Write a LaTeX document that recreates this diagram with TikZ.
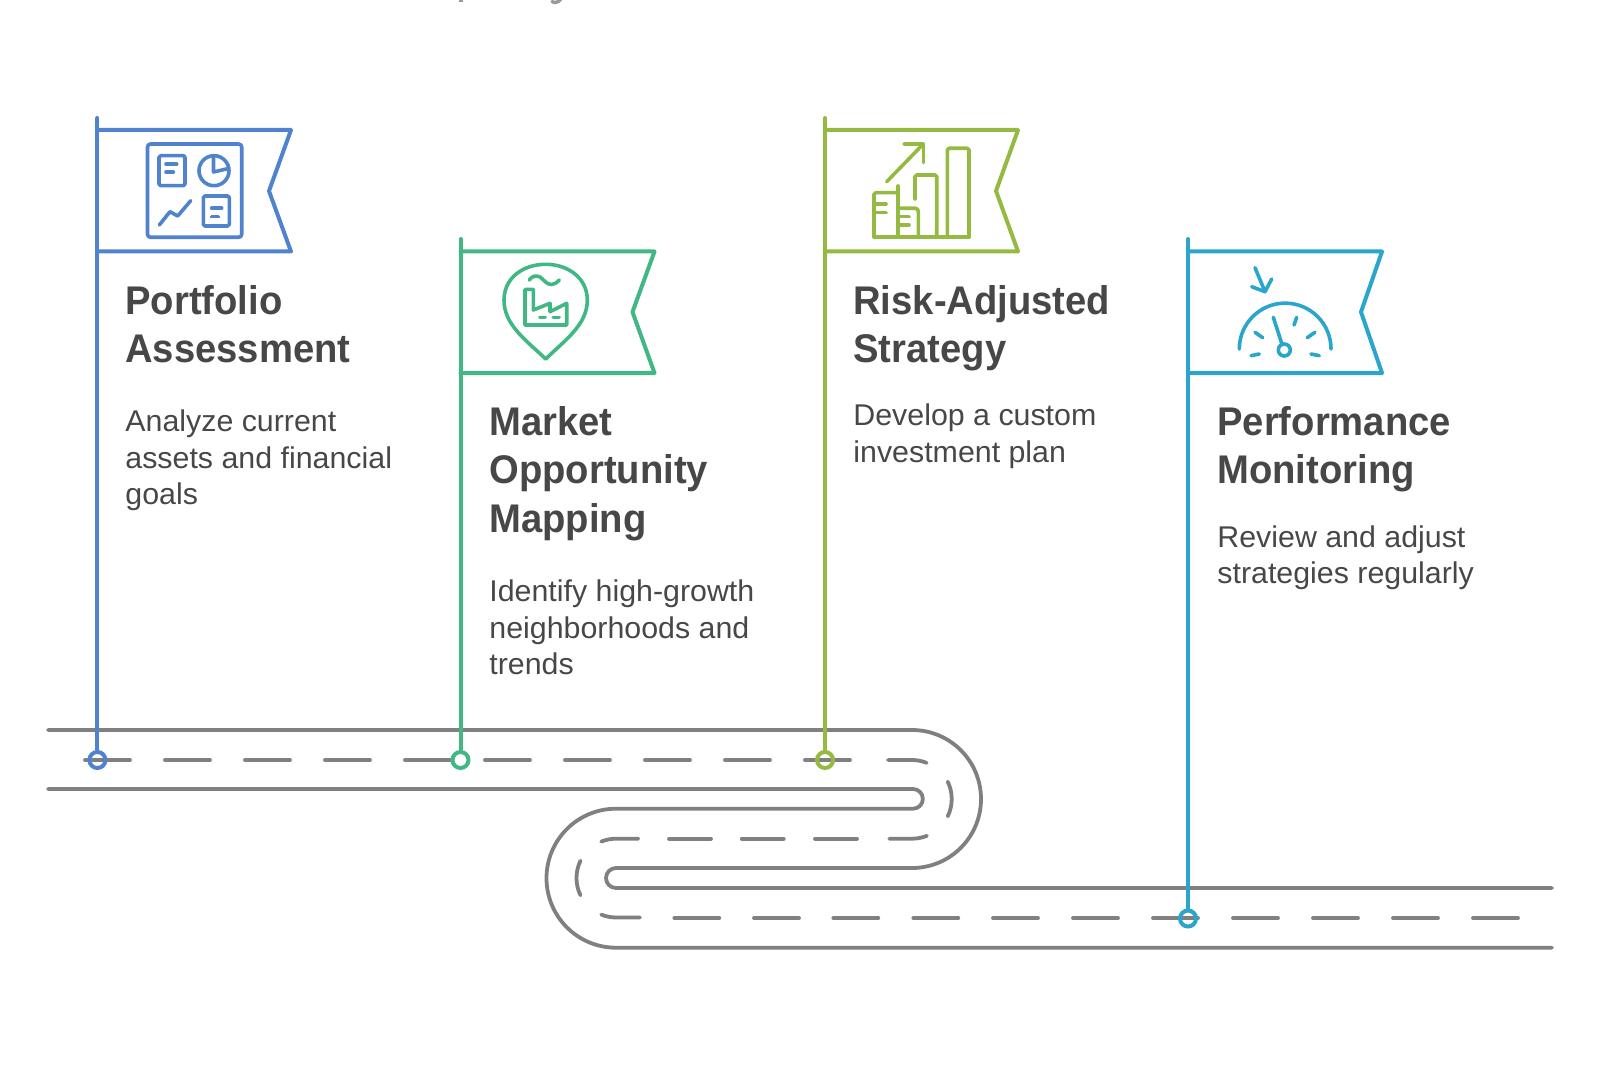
\documentclass[tikz,border=0pt]{standalone}
\usepackage{fontspec}
\setmainfont[FakeStretch=1.012,BoldFeatures={FakeStretch=0.955}]{Liberation Sans}
\definecolor{roadgray}{HTML}{808080}
\definecolor{txt}{HTML}{474747}
\definecolor{cblue}{HTML}{5082CE}
\definecolor{cgreen}{HTML}{41B883}
\definecolor{colive}{HTML}{94BA42}
\definecolor{ccyan}{HTML}{2AA5CC}
\newcommand{\ts}{\rule{0pt}{16pt}}
\newcommand{\bs}{\rule{0pt}{12pt}}
\tikzset{
  road/.style={draw=roadgray,line width=1.9pt,line cap=round,line join=round},
  flagline/.style={line width=2pt,line join=round,line cap=round},
  icon/.style={line width=1.8pt,line join=round,line cap=round},
  marker/.style={circle,draw,line width=2pt,minimum size=8pt,inner sep=0pt},
  ttl/.style={anchor=north west,inner sep=0pt,align=left,text=txt,font=\fontsize{20pt}{24.25pt}\selectfont\bfseries},
  body/.style={anchor=north west,inner sep=0pt,align=left,text=txt,font=\fontsize{15pt}{18.1pt}\selectfont},
}
\begin{document}
\begin{tikzpicture}[x=0.5pt,y=-0.5pt]
\useasboundingbox (0,0) rectangle (1600,1075);
% cropped marks at the top edge
\draw[draw=gray!80,line width=1.7pt] (461,-2) -- (461,2.5);
\draw[draw=gray!80,line width=1.7pt,line cap=round] (552,1.5) .. controls (554,3) and (558,3) .. (561,-1);
% road outlines
\draw[road] (48,730) -- (912,730) arc (-90:90:69) -- (616,868) arc (270:90:10) -- (1552,888);
\draw[road] (48,789) -- (913,789) arc (-90:90:9.85) -- (616,808.7) arc (270:90:69.5) -- (1552,947.7);
% road centre dashes
\foreach \a in {85,165,245,325,405,485,565,645,725,805}
  \draw[road] (\a,760) -- ++(45,0);
\draw[road] (888,760) -- (912,760) arc (-90:-68:39);
\draw[road] (947.7,781.6) arc (-26:26:39.7);
\draw[road] (926.9,835.8) arc (68:90:39.7) -- (889.3,838.7);
\foreach \a in {815,741.7,669}
  \draw[road] (\a,838.7) -- ++(42,0);
\draw[road] (638.3,838.7) -- (616,838.7) arc (270:248:39.5);
\draw[road] (580.5,860.7) arc (206:154:39.5);
\draw[road] (601.2,914.6) arc (112:90:39.5) -- (640,917.5);
\foreach \a in {674.3,754,833.3,913.3,993,1073,1153,1233,1313,1393,1473}
  \draw[road] (\a,918) -- ++(45,0);
% markers
\node[marker,draw=cblue] (m1) at (97.4,760) {};
\node[marker,draw=cgreen] (m2) at (460.5,760) {};
\node[marker,draw=colive] (m3) at (825,760) {};
\node[marker,draw=ccyan] (m4) at (1188,918.5) {};
% flag poles
\coordinate (t1) at (97.4,118);
\coordinate (t2) at (460.5,239);
\coordinate (t3) at (825,118);
\coordinate (t4) at (1188,239);
\draw[flagline,cblue] (t1) -- (m1.north);
\draw[flagline,cgreen] (t2) -- (m2.north);
\draw[flagline,colive] (t3) -- (m3.north);
\draw[flagline,ccyan] (t4) -- (m4.north);
% flags
\draw[flagline,cblue] (97.4,130) -- (291,130) -- (269,191) -- (291,251.5) -- (97.4,251.5);
\draw[flagline,cgreen] (460.5,251.5) -- (654.5,251.5) -- (632.5,312) -- (654.5,373) -- (460.5,373);
\draw[flagline,colive] (825,130) -- (1018,130) -- (996,191) -- (1018,251.5) -- (825,251.5);
\draw[flagline,ccyan] (1188,251.5) -- (1382,251.5) -- (1361,312) -- (1382,373) -- (1188,373);
% icon 1
\begin{scope}[icon,cblue]
\draw[rounded corners=1.5pt] (147.5,144) rectangle (241.7,237.3);
\draw[rounded corners=0.8pt] (159,155.7) rectangle (185,185.7);
\draw (166,164.3) -- (176.7,164.3) (166,172.3) -- (173.3,172.3);
\draw (214,170.7) circle (15);
\draw (213.5,157) -- (213.5,172) -- (228.5,168.5);
\draw (159.3,225) -- (170,211.7) -- (177.7,216) -- (190.7,200.7);
\draw[rounded corners=0.8pt] (203.3,196) rectangle (229.3,226);
\draw (211.7,208.3) -- (221.7,208.3) (211.7,216.7) -- (218.3,216.7);
\end{scope}
% icon 2
\begin{scope}[icon,cgreen]
\draw (545.7,264.3) .. controls (568,264.3) and (587.3,278) .. (587.3,300) .. controls (587.3,325) and (565,340) .. (545.7,359) .. controls (526,340) and (504,325) .. (504,300) .. controls (504,278) and (523,264.3) .. (545.7,264.3) -- cycle;
\draw (525,325) -- (525,289.3) -- (533.3,289.3) -- (533.3,310) -- (550,303.3) -- (550,311.7) -- (566.7,303.3) -- (566.7,325) -- cycle;
\draw (529.3,280) .. controls (532,276) and (536,275) .. (540,277) .. controls (544,280) and (547,285) .. (552,284.5) .. controls (555,284) and (558,282) .. (559.3,280);
\draw (540,317.3) -- (545,317.3) (553.3,317.3) -- (559,317.3);
\end{scope}
% icon 3
\begin{scope}[icon,colive]
\draw (874,237.3) -- (969,237.3);
\draw[rounded corners=0.8pt] (947.3,237.3) -- (947.3,148.3) -- (969,148.3) -- (969,237.3);
\draw[rounded corners=0.8pt] (915,199.3) -- (915,175) -- (936.7,175) -- (936.7,237.3);
\draw[rounded corners=0.8pt] (874,237.3) -- (874,192.7) -- (898,192.7);
\draw (898,186) -- (898,237.3);
\draw[rounded corners=1.5pt] (898,208.3) -- (918.3,208.3) -- (918.3,237.3);
\draw (874,204) -- (886,204) (874,212.7) -- (886,212.7);
\draw (898,216.7) -- (909,216.7) (898,225) -- (909,225);
\draw (886.7,181.7) -- (923.3,144);
\draw (904.3,144) -- (923.3,144) -- (923.3,162.7);
\end{scope}
% icon 4
\begin{scope}[icon,ccyan]
\draw (1239.3,349) arc (180:360:45.85);
\draw (1284.3,350) circle (6);
\draw (1273.3,317.3) -- (1281.7,343.3);
\draw (1294,325) -- (1296.7,317.3);
\draw (1255,332.3) -- (1262.7,337.7);
\draw (1307.3,337.7) -- (1315,332.3);
\draw (1251,355.7) -- (1259.3,354);
\draw (1311,354) -- (1319.3,355.7);
\draw (1255,267.7) -- (1265,291.7);
\draw (1251.7,286.7) -- (1265,291.7) -- (1271.7,279);
\end{scope}
% texts
\node[ttl] (h1) at (125,281.7) {\ts Portfolio\\Assessment};
\node[body] (b1) at (125,407.5) {\bs Analyze current\\assets and financial\\goals};
\node[ttl] (h2) at (489,403) {\ts Market\\Opportunity\\Mapping};
\node[body] (b2) at (489,577.5) {\bs Identify high-growth\\neighborhoods and\\trends};
\node[ttl] (h3) at (853,281.7) {\ts Risk-Adjusted\\Strategy};
\node[body] (b3) at (853,401.5) {\bs Develop a custom\\investment plan};
\node[ttl] (h4) at (1217,403) {\ts Performance\\Monitoring};
\node[body] (b4) at (1217,522.6) {\bs Review and adjust\\strategies regularly};
\end{tikzpicture}
\end{document}
